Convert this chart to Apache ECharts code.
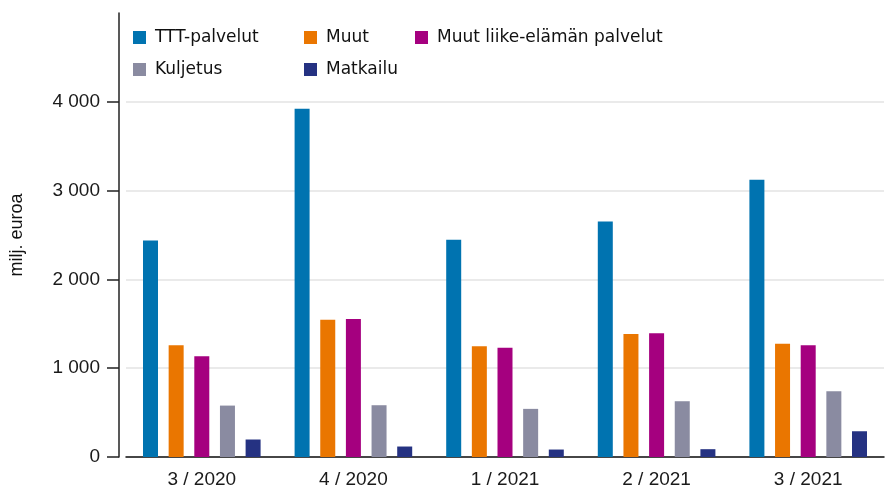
<!DOCTYPE html>
<html>
<head>
<meta charset="utf-8">
<script src="https://cdn.jsdelivr.net/npm/echarts@6/dist/echarts.min.js"></script>
<style>
  html, body { margin: 0; padding: 0; background: #fff; }
  #chart { width: 885px; height: 489px; }
</style>
</head>
<body>
<div id="chart"></div>
<script>
// neljännekset
const categories = ['3 / 2020', '4 / 2020', '1 / 2021', '2 / 2021', '3 / 2021']
const yTicks = [0, 1000, 2000, 3000, 4000]

// milj. euroa
const tttPalvelut = [2439, 3921, 2447, 2653, 3122]
const muut = [1258, 1547, 1247, 1386, 1274]
const muutLiike = [1134, 1555, 1229, 1393, 1258]
const kuljetus = [579, 583, 542, 628, 740]
const matkailu = [197, 118, 84, 88, 290]

const axisFont = 'Liberation Sans, Arial, sans-serif'
const legendFont = 'DejaVu Sans, Verdana, sans-serif'

const fmt = (v) => String(v).replace(/\B(?=(\d{3})+(?!\d))/g, ' ')

const bar = (name, data, color) => ({
  name,
  type: 'bar',
  data,
  barWidth: 15,
  barGap: '71%',
  itemStyle: { color },
  animation: false
})

const legendBase = {
  orient: 'vertical',
  top: 24,
  itemWidth: 13,
  itemHeight: 13,
  itemGap: 15,
  icon: 'rect',
  textStyle: { fontFamily: legendFont, fontSize: 17, color: '#111', padding: [0, 0, 0, 4] }
}

const myChart = echarts.init(document.getElementById('chart'))
myChart.setOption({
  backgroundColor: '#fff',
  legend: [
    { ...legendBase, left: 128, data: ['TTT-palvelut', 'Kuljetus'] },
    { ...legendBase, left: 299, data: ['Muut', 'Matkailu'] },
    { ...legendBase, left: 410, data: ['Muut liike-elämän palvelut'] }
  ],
  grid: { left: 124, right: 1, top: 13, bottom: 32, containLabel: false },
  xAxis: {
    type: 'category',
    data: categories,
    axisLine: { lineStyle: { color: '#111', width: 1.5 } },
    axisTick: { show: false },
    axisLabel: { fontFamily: axisFont, fontSize: 19, color: '#1a1a1a', margin: 13 }
  },
  yAxis: {
    type: 'value',
    min: 0,
    max: 5000,
    interval: 1000,
    offset: 7,
    name: 'milj. euroa',
    nameLocation: 'middle',
    nameGap: 93,
    nameTextStyle: { fontFamily: axisFont, fontSize: 18, color: '#111' },
    axisLine: { show: true, lineStyle: { color: '#222', width: 1.5 } },
    axisTick: { show: true, length: 12, customValues: yTicks, lineStyle: { color: '#222', width: 1.5 } },
    axisLabel: { customValues: yTicks, fontFamily: axisFont, fontSize: 19, color: '#1a1a1a', margin: 19, formatter: fmt },
    splitLine: {
      lineStyle: { color: ['#e3e3e3', '#e3e3e3', '#e3e3e3', '#e3e3e3', '#e3e3e3', 'transparent'], width: 1.5 }
    }
  },
  series: [
    bar('TTT-palvelut', tttPalvelut, '#0073B0'),
    bar('Muut', muut, '#EA7600'),
    bar('Muut liike-elämän palvelut', muutLiike, '#A5007F'),
    bar('Kuljetus', kuljetus, '#8A8BA1'),
    bar('Matkailu', matkailu, '#253282')
  ]
})
</script>
</body>
</html>
